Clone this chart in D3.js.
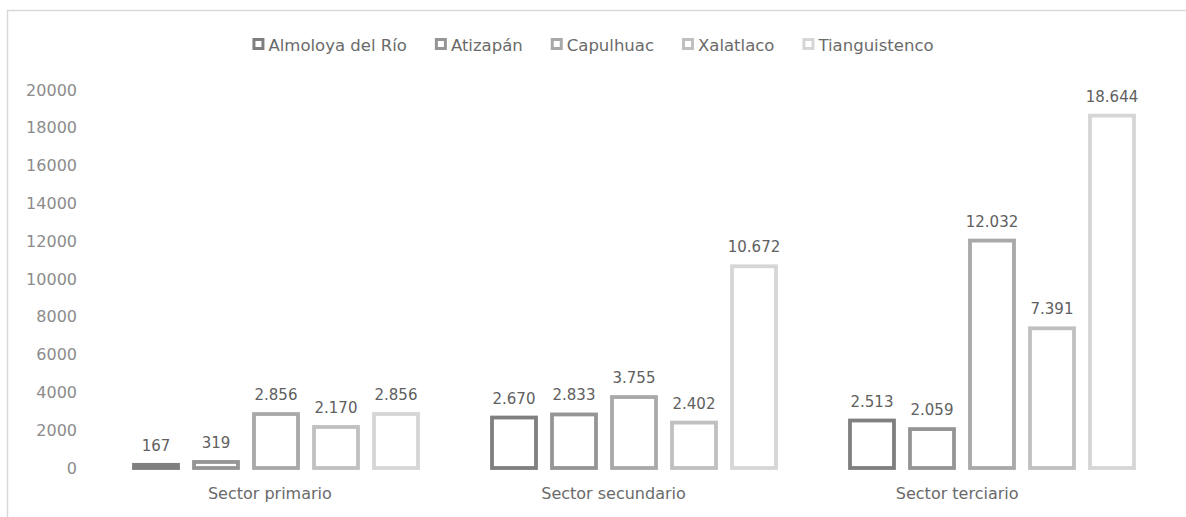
<!DOCTYPE html>
<html>
<head>
<meta charset="utf-8">
<script src="https://cdn.jsdelivr.net/npm/d3@7"></script>
<style>
  body { margin: 0; background: #fff; }
  text { font-family: "DejaVu Sans", sans-serif; }
</style>
</head>
<body>
<div id="chart"></div>
<script>
// Data
const categories = ["Sector primario", "Sector secundario", "Sector terciario"];
const seriesNames = ["Almoloya del Río", "Atizapán", "Capulhuac", "Xalatlaco", "Tianguistenco"];
const seriesColors = ["#7f7f7f", "#959595", "#a9a9a9", "#c0c0c0", "#d6d6d6"];
const almoloya = [167, 2670, 2513];
const atizapan = [319, 2833, 2059];
const capulhuac = [2856, 3755, 12032];
const xalatlaco = [2170, 2402, 7391];
const tianguistenco = [2856, 10672, 18644];
const yTicks = [0, 2000, 4000, 6000, 8000, 10000, 12000, 14000, 16000, 18000, 20000];

const seriesValues = [almoloya, atizapan, capulhuac, xalatlaco, tianguistenco];

const W = 1186, H = 517;

const svg = d3.select("#chart")
  .append("svg")
  .attr("width", W)
  .attr("height", H);

// chart frame (only top and left edge visible in the picture)
svg.append("path")
  .attr("d", `M7.5,${H} L7.5,10.5 L${W},10.5`)
  .attr("fill", "none")
  .attr("stroke", "#d9d9d9")
  .attr("stroke-width", 1.5);

// Scales
const y = d3.scaleLinear().domain([0, 20000]).range([468, 90]);

// category label positions
const xAxisBand = d3.scaleBand().domain(categories).range([98, 1129]);

// bar group positions
const xGroup = d3.scaleBand().domain(categories).range([132, 1136]).paddingInner(0.1955);
const xSeries = d3.scaleBand().domain(seriesNames).range([0, xGroup.bandwidth()]).paddingInner(0.2);

const esFormat = d3.formatLocale({ decimal: ",", thousands: ".", grouping: [3], currency: ["", ""] }).format(",d");

// y axis
svg.append("g")
  .attr("transform", "translate(77,0)")
  .style("font-size", "16px")
  .call(d3.axisLeft(y).tickValues(yTicks).tickFormat(d3.format("d")).tickSize(0).tickPadding(0))
  .call(g => g.select(".domain").remove())
  .selectAll(".tick text")
  .attr("fill", "#8c8c8c")
  .style("font-family", "'DejaVu Sans', sans-serif");

// x axis (labels only)
svg.append("g")
  .attr("transform", "translate(0,468)")
  .style("font-size", "16px")
  .call(d3.axisBottom(xAxisBand).tickSize(0).tickPadding(20))
  .call(g => g.select(".domain").remove())
  .selectAll(".tick text")
  .attr("fill", "#6a6a6a")
  .style("font-family", "'DejaVu Sans', sans-serif");

// Bars
const groups = svg.selectAll(".grp")
  .data(categories)
  .join("g")
  .attr("class", "grp")
  .attr("transform", d => `translate(${xGroup(d)},0)`);

groups.each(function(cat, ci) {
  const g = d3.select(this);
  const rows = seriesNames.map((s, si) => ({ s, si, v: seriesValues[si][ci] }));

  g.selectAll("rect")
    .data(rows)
    .join("rect")
    .attr("x", d => xSeries(d.s) + 2)
    .attr("width", xSeries.bandwidth() - 4)
    .attr("y", d => y(d.v))
    .attr("height", d => y(0) - y(d.v))
    .attr("fill", "#fff")
    .attr("stroke", d => seriesColors[d.si])
    .attr("stroke-width", 3.8);

  g.selectAll("text")
    .data(rows)
    .join("text")
    .attr("x", d => xSeries(d.s) + xSeries.bandwidth() / 2)
    .attr("y", d => y(d.v) - 14)
    .attr("text-anchor", "middle")
    .style("font-size", "15px")
    .attr("fill", "#606060")
    .text(d => esFormat(d.v));
});

// Legend
const legend = svg.append("g");
let lx = 0;
seriesNames.forEach((s, i) => {
  const item = legend.append("g").attr("transform", `translate(${lx},0)`);
  item.append("rect")
    .attr("x", 1.5).attr("y", 39.5)
    .attr("width", 9).attr("height", 9)
    .attr("fill", "#fff")
    .attr("stroke", seriesColors[i])
    .attr("stroke-width", 3);
  const t = item.append("text")
    .attr("x", 16)
    .attr("y", 51)
    .style("font-size", "16.5px")
    .attr("fill", "#6a6a6a")
    .text(s);
  lx += 16 + t.node().getComputedTextLength() + 28;
});
const legendWidth = lx - 28;
legend.attr("transform", `translate(${593 - legendWidth / 2},0)`);
</script>
</body>
</html>
